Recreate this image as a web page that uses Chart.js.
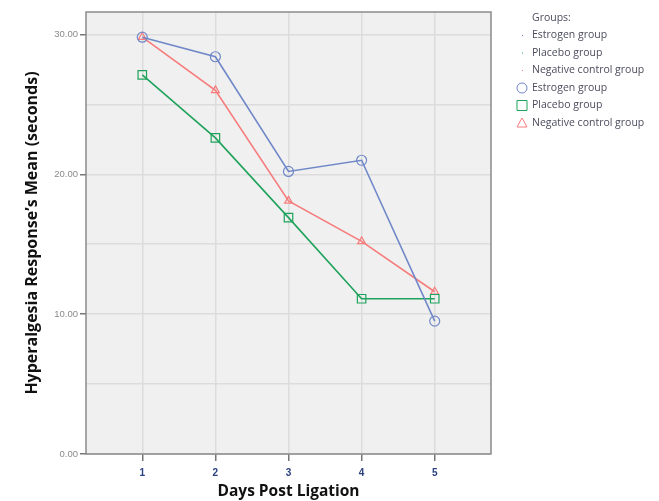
<!DOCTYPE html>
<html>
<head>
<meta charset="utf-8">
<script src="https://cdn.jsdelivr.net/npm/chart.js@4/dist/chart.umd.min.js"></script>
<style>
  html, body { margin: 0; padding: 0; background: #fff; }
  #wrap { width: 659px; height: 501px; }
</style>
</head>
<body>
<div id="wrap"><canvas id="myChart" width="659" height="501"></canvas></div>
<script>
const days = [1, 2, 3, 4, 5];
const estrogen = [29.8, 28.4, 20.2, 21.0, 9.5];
const placebo = [27.1, 22.6, 16.9, 11.1, 11.1];
const negative = [29.8, 26.0, 18.1, 15.2, 11.6];
const yTicks = [0, 5, 10, 15, 20, 25, 30];

const blue = '#7088c8';
const green = '#1fa35c';
const red = '#f77c7c';

const toPoints = vals => days.map((d, i) => ({ x: d, y: vals[i] }));

// plot background + box around the plot area
const plotBox = {
  id: 'plotBox',
  beforeDraw(chart) {
    const { ctx, chartArea: a } = chart;
    ctx.save();
    ctx.fillStyle = '#f0f0f0';
    ctx.fillRect(a.left, a.top, a.width, a.height);
    ctx.restore();
  },
  afterDatasetsDraw(chart) {
    const { ctx, chartArea: a } = chart;
    ctx.save();
    ctx.strokeStyle = '#8a8a8a';
    ctx.lineWidth = 1.5;
    ctx.strokeRect(a.left, a.top, a.width, a.height);
    ctx.restore();
  }
};

// SPSS style legend at the right
const sideLegend = {
  id: 'sideLegend',
  afterDraw(chart) {
    const { ctx, chartArea: a } = chart;
    const x = a.right + 41, y0 = a.top + 6, step = 17.5;
    ctx.save();
    ctx.font = '10.5px "Open Sans", sans-serif';
    ctx.textBaseline = 'middle';
    ctx.fillStyle = '#4c4c5e';
    ctx.fillText('Groups:', x, y0);
    const ds = chart.data.datasets;
    ds.forEach((d, i) => {
      const yy = y0 + step * (i + 1);
      ctx.fillStyle = d.borderColor;
      ctx.fillRect(x - 10, yy - 0.5, 1, 1);
      ctx.fillStyle = '#4c4c5e';
      ctx.fillText(d.label, x, yy);
    });
    ds.forEach((d, i) => {
      const yy = y0 + step * (i + 4);
      ctx.strokeStyle = d.borderColor;
      ctx.lineWidth = 1;
      ctx.beginPath();
      if (d.pointStyle === 'circle') ctx.arc(x - 10, yy, 5, 0, Math.PI * 2);
      else if (d.pointStyle === 'rect') ctx.rect(x - 15, yy - 5, 10, 10);
      else { ctx.moveTo(x - 10, yy - 5); ctx.lineTo(x - 5, yy + 4); ctx.lineTo(x - 15, yy + 4); ctx.closePath(); }
      ctx.stroke();
      ctx.fillStyle = '#4c4c5e';
      ctx.fillText(d.label, x, yy);
    });
    ctx.restore();
  }
};

const common = { fill: false, borderWidth: 1.6, pointBackgroundColor: 'rgba(0,0,0,0)', pointBorderWidth: 1.2, tension: 0 };

new Chart(document.getElementById('myChart').getContext('2d'), {
  type: 'line',
  data: {
    datasets: [
      { ...common, label: 'Estrogen group', data: toPoints(estrogen), borderColor: blue, pointBorderColor: blue, pointStyle: 'circle', pointRadius: 5 },
      { ...common, label: 'Placebo group', data: toPoints(placebo), borderColor: green, pointBorderColor: green, pointStyle: 'rect', pointRadius: 6 },
      { ...common, label: 'Negative control group', data: toPoints(negative), borderColor: red, pointBorderColor: red, pointStyle: 'triangle', pointRadius: 4.5 }
    ]
  },
  options: {
    responsive: false,
    animation: false,
    layout: { padding: { top: 12, right: 168, left: 0, bottom: 0 } },
    plugins: { legend: { display: false }, tooltip: { enabled: false } },
    scales: {
      x: {
        type: 'linear',
        min: 0.23, max: 5.77,
        afterBuildTicks: s => { s.ticks = days.map(v => ({ value: v })); },
        afterFit: s => { s.height = 47; },
        grid: { color: '#dcdcdc', lineWidth: 1.5, tickLength: 7, tickColor: '#777' },
        border: { display: false },
        ticks: { color: '#2b4080', font: { family: 'Liberation Sans', size: 10, weight: 'bold' }, padding: 6, callback: v => String(v) },
        title: { display: true, text: 'Days Post Ligation', color: '#111', font: { family: '"Open Sans"', size: 15.5, weight: 'bold' }, padding: { top: 0, bottom: 0 } }
      },
      y: {
        min: 0, max: 31.6,
        afterBuildTicks: s => { s.ticks = yTicks.map(v => ({ value: v })); },
        afterFit: s => { s.width = 86; },
        grid: {
          color: '#dcdcdc', lineWidth: 1.5, tickLength: 6,
          tickColor: c => (c.tick && c.tick.value % 10 === 0) ? '#777' : 'rgba(0,0,0,0)'
        },
        border: { display: false },
        ticks: { color: '#8a8a8a', font: { family: 'Liberation Sans', size: 9.5 }, padding: 2,
          callback: v => v % 10 === 0 ? v.toFixed(2) : '' },
        title: { display: true, text: 'Hyperalgesia Response\u2019s Mean (seconds)', color: '#111', font: { family: '"Open Sans"', size: 16, weight: 'bold' }, padding: { top: 23, bottom: 0 } }
      }
    }
  },
  plugins: [plotBox, sideLegend]
});
</script>
</body>
</html>
